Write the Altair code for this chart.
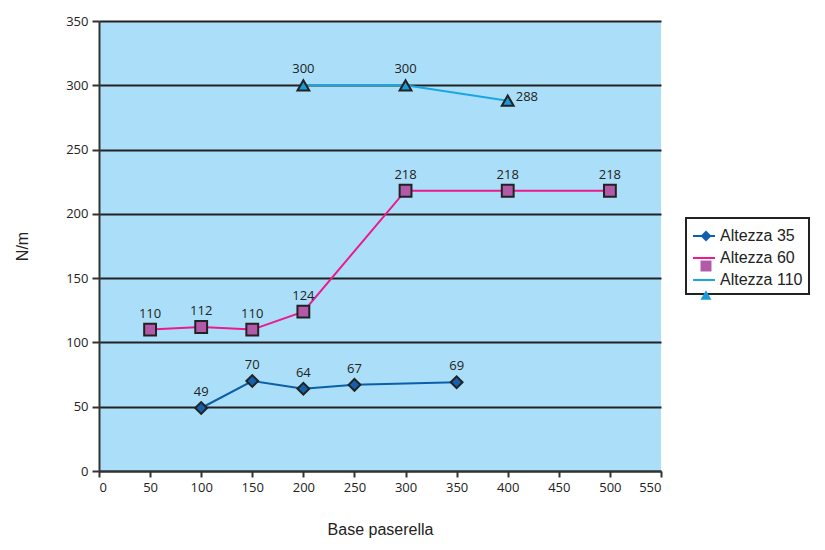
import altair as alt
import pandas as pd

series_names = ["Altezza 35", "Altezza 60", "Altezza 110"]
x35 = [100, 150, 200, 250, 350]
y35 = [49, 70, 64, 67, 69]
x60 = [50, 100, 150, 200, 300, 400, 500]
y60 = [110, 112, 110, 124, 218, 218, 218]
x110 = [200, 300, 400]
y110 = [300, 300, 288]
label_pos110 = ["top", "top", "right"]

line_colors = ["#0b5eaa", "#ec1a8c", "#1aa6e2"]
fill_colors = ["#1560ad", "#b25aa8", "#1b9ad8"]
shapes = ["diamond", "square", "triangle-up"]

# line legend uses names with a trailing space so it stays a separate legend
line_names = [n + " " for n in series_names]

rows = []
for k, (name, xs, ys) in enumerate([(series_names[0], x35, y35), (series_names[1], x60, y60), (series_names[2], x110, y110)]):
    for i, (xv, yv) in enumerate(zip(xs, ys)):
        pos = "top"
        if name == "Altezza 110":
            pos = label_pos110[i]
        rows.append({"serie": name, "linea": line_names[k], "base": xv, "val": yv, "pos": pos})
df = pd.DataFrame(rows)

xs_ = alt.X("base:Q", title="Base paserella",
            scale=alt.Scale(domain=[0, 550], nice=False),
            axis=alt.Axis(values=list(range(0, 551, 50)), grid=False, tickSize=6,
                          domainColor="#333", tickColor="#333", domainWidth=2, tickWidth=2,
                          labelFont="Open Sans", labelFontSize=13, labelColor="#222",
                          titleFont="Liberation Sans", titleFontSize=16, titleFontWeight="normal",
                          titleColor="#222", titlePadding=27, labelPadding=4))
ys_ = alt.Y("val:Q", title="N/m",
            scale=alt.Scale(domain=[0, 350], nice=False),
            axis=alt.Axis(values=list(range(0, 351, 50)), grid=True, gridColor="#222", gridWidth=2,
                          gridOpacity=1, tickSize=7, domainColor="#333", tickColor="#333",
                          domainWidth=2, tickWidth=2,
                          labelFont="Open Sans", labelFontSize=13, labelColor="#222",
                          titleFont="Liberation Sans", titleFontSize=16, titleFontWeight="normal",
                          titleColor="#222", titlePadding=35, labelPadding=4))

LX, LY = 587, 197

line_legend = alt.Legend(title=None, orient="none", legendX=LX, legendY=LY, zindex=1,
                         symbolType="stroke", symbolSize=484, symbolStrokeWidth=2,
                         strokeColor="#222", fillColor="white", padding=6,
                         labelFont="Liberation Sans", labelFontSize=16, labelColor="#222",
                         rowPadding=2, labelOffset=4)
mark_legend = alt.Legend(title=None, orient="none", legendX=LX, legendY=LY + 4, zindex=2,
                         strokeColor="transparent", fillColor="transparent", padding=6,
                         labelFont="Liberation Sans", labelFontSize=16, labelColor="transparent",
                         symbolStrokeColor="#222", symbolStrokeWidth=2, symbolSize=120,
                         symbolOffset=6, rowPadding=10, labelOffset=16)

base = alt.Chart(df)

lines = base.mark_line(strokeWidth=2).encode(
    x=xs_, y=ys_,
    stroke=alt.Stroke("linea:N", scale=alt.Scale(domain=line_names, range=line_colors),
                      legend=line_legend),
)

points = base.mark_point(filled=True, size=140, stroke="#222", strokeWidth=2, opacity=1).encode(
    x="base:Q", y="val:Q",
    fill=alt.Fill("serie:N", scale=alt.Scale(domain=series_names, range=fill_colors), legend=mark_legend),
    shape=alt.Shape("serie:N", scale=alt.Scale(domain=series_names, range=shapes), legend=mark_legend),
)

labels_top = base.transform_filter(alt.datum.pos == "top").mark_text(
    dy=-16, font="Open Sans", fontSize=13, color="#222").encode(
    x="base:Q", y="val:Q", text="val:Q")
labels_right = base.transform_filter(alt.datum.pos == "right").mark_text(
    dx=8, dy=-4, align="left", font="Open Sans", fontSize=13, color="#222").encode(
    x="base:Q", y="val:Q", text="val:Q")

chart = alt.layer(lines, points, labels_top, labels_right).properties(
    width=562, height=450,
    autosize=alt.AutoSizeParams(type="none"),
    padding={"left": 91, "top": 13, "right": 156, "bottom": 69},
).configure(background="white").configure_view(
    fill="#abdff9", strokeWidth=0, stroke="transparent"
).configure_legend(strokeWidth=2)

chart.save("out.html", embed_options={"renderer": "svg", "actions": False})
